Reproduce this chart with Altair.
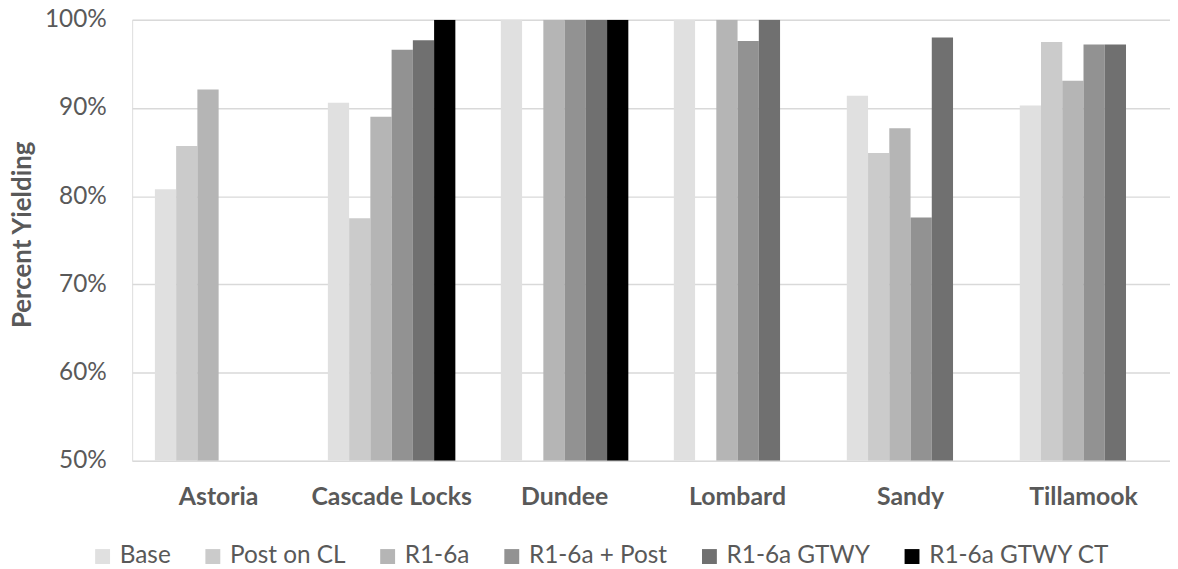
import altair as alt
import pandas as pd

sites = ["Astoria", "Cascade Locks", "Dundee", "Lombard", "Sandy", "Tillamook"]
series = ["Base", "Post on CL", "R1-6a", "R1-6a + Post", "R1-6a GTWY", "R1-6a GTWY CT"]
colors = ["#e0e0e0", "#cbcbcb", "#b5b5b5", "#929292", "#707070", "#000000"]

base_vals = [0.808, 0.906, 1.00, 1.00, 0.914, 0.903]
post_vals = [0.857, 0.775, None, None, 0.849, 0.975]
r16a_vals = [0.921, 0.890, 1.00, 1.00, 0.877, 0.931]
r16a_post_vals = [None, 0.966, 1.00, 0.976, 0.776, 0.972]
gtwy_vals = [None, 0.977, 1.00, 1.00, 0.980, 0.972]
gtwy_ct_vals = [None, 1.00, 1.00, None, None, None]

all_vals = [base_vals, post_vals, r16a_vals, r16a_post_vals, gtwy_vals, gtwy_ct_vals]

rows = []
for s_name, vals in zip(series, all_vals):
    for site, v in zip(sites, vals):
        if v is not None:
            rows.append({"site": site, "series": s_name, "value": v})
df = pd.DataFrame(rows)

FONT = "Lato"
TXT = "#595959"

chart = (
    alt.Chart(df)
    .mark_bar(clip=True)
    .encode(
        x=alt.X(
            "site:N",
            sort=sites,
            scale=alt.Scale(paddingInner=0.263, paddingOuter=0.1315),
            axis=alt.Axis(
                title=None,
                labelAngle=0,
                labelFont=FONT,
                labelFontWeight="bold",
                labelFontSize=25,
                labelColor=TXT,
                labelPadding=24,
                ticks=False,
                tickSize=0,
                domain=False,
                grid=False,
            ),
        ),
        xOffset=alt.XOffset(
            "series:N",
            sort=series,
            scale=alt.Scale(domain=series, paddingInner=0, paddingOuter=0),
        ),
        y=alt.Y(
            "value:Q",
            scale=alt.Scale(domain=[0.5, 1.0], zero=False, nice=False),
            axis=alt.Axis(
                title="Percent Yielding",
                format=".0%",
                values=[0.5, 0.6, 0.7, 0.8, 0.9, 1.0],
                labelFont=FONT,
                labelFontSize=24.5,
                labelColor=TXT,
                labelPadding=26,
                ticks=False,
                tickSize=0,
                domain=False,
                grid=True,
                gridColor="#d9d9d9",
                gridWidth=1.5,
                titleFont=FONT,
                titleFontSize=26,
                titleFontWeight="bold",
                titleColor=TXT,
                titleX=-110,
                titleY=216,
                titleAlign="center",
                titleBaseline="middle",
                titleAngle=-90,
            ),
        ),
        y2=alt.datum(0.5),
        color=alt.Color(
            "series:N",
            sort=series,
            scale=alt.Scale(domain=series, range=colors),
            legend=alt.Legend(
                title=None,
                orient="none",
                legendX=-42,
                legendY=528,
                direction="horizontal",
                columns=6,
                columnPadding=30,
                symbolType="square",
                symbolSize=225,
                symbolStrokeWidth=0,
                labelOffset=5,
                labelLimit=400,
                labelFont=FONT,
                labelFontSize=24.5,
                labelColor=TXT,
            ),
        ),
    )
    .properties(
        width=1045,
        height=444,
        autosize=alt.AutoSizeParams(type="none"),
        padding={"left": 125, "top": 10, "right": 0, "bottom": 107},
    )
    .configure_view(stroke=None)
    .configure(background="white")
)

chart.save("out.html", embed_options={"renderer": "svg", "actions": False})
